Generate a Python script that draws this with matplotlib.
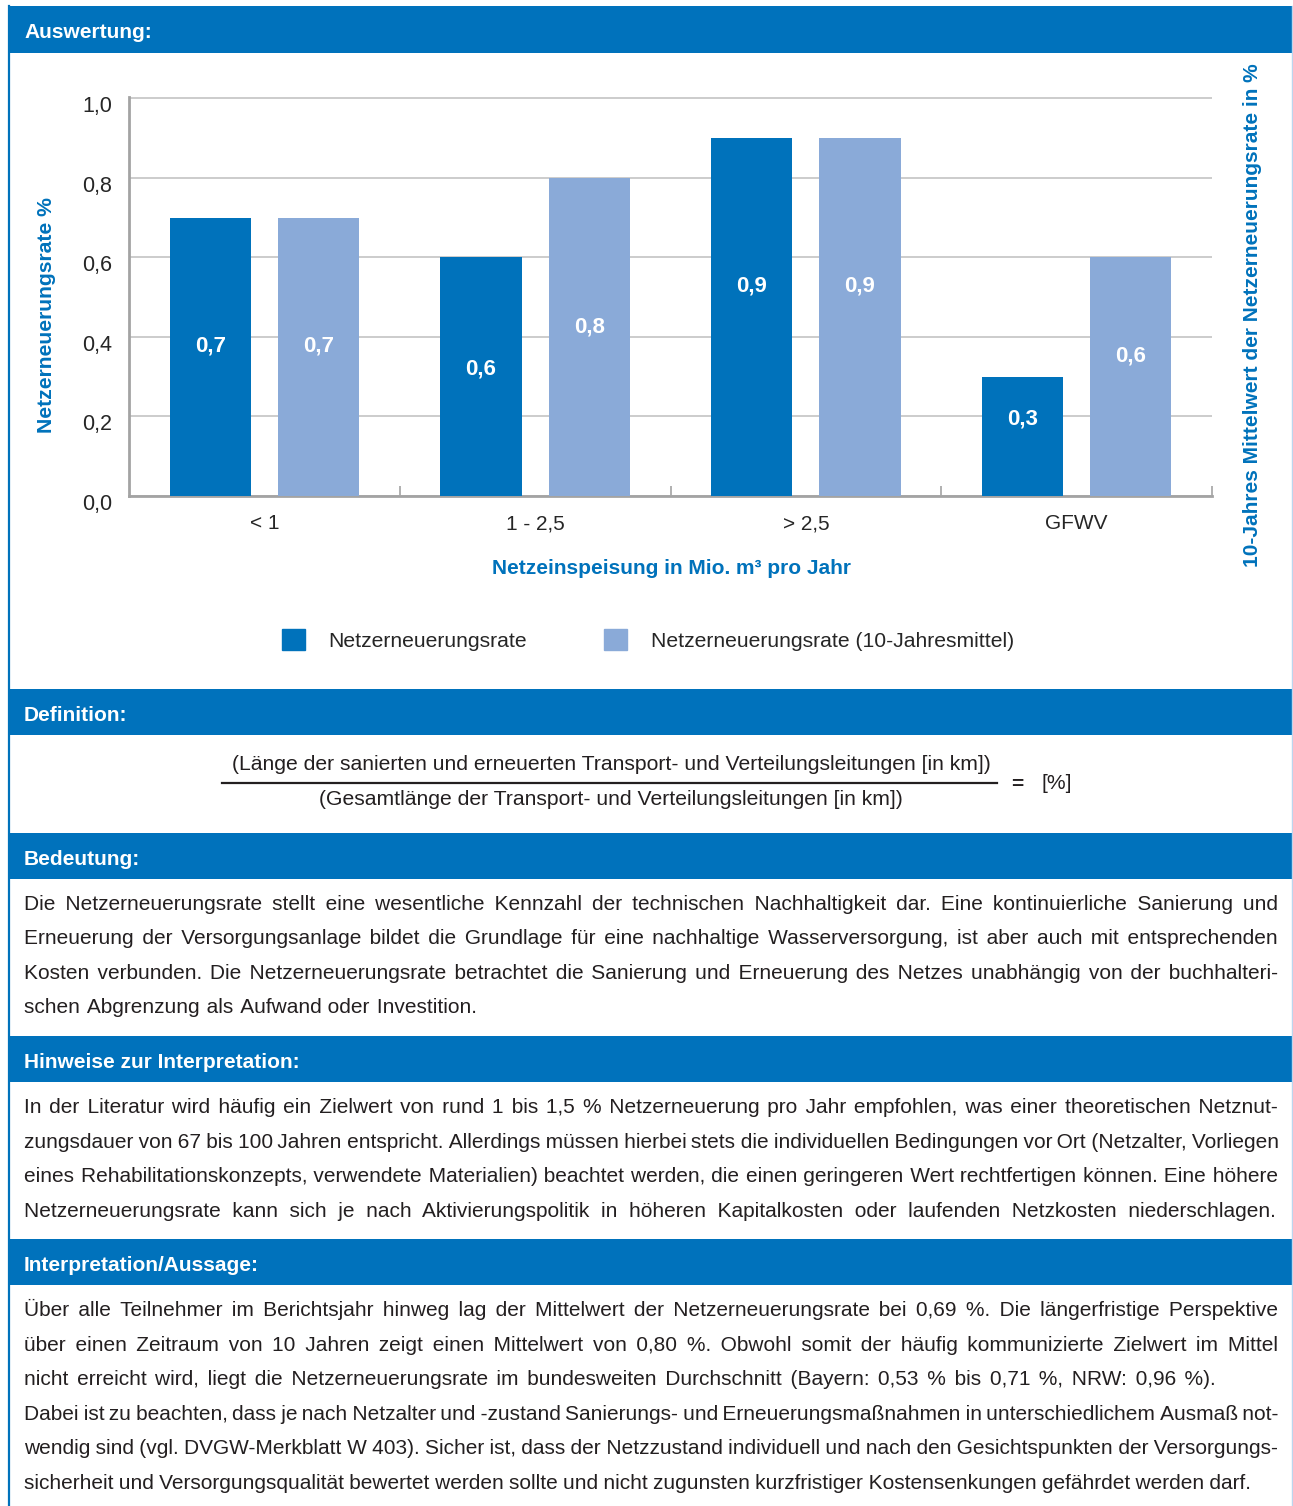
import itertools
import numpy as np
import matplotlib
matplotlib.use('Agg')
import matplotlib.pyplot as plt
from matplotlib.patches import Rectangle, Patch
from matplotlib.lines import Line2D
from matplotlib.transforms import ScaledTranslation

plt.rcParams['font.family'] = ['Liberation Sans', 'DejaVu Sans']

# Netzerneuerungsrate nach Netzeinspeisung
categories = ['< 1', '1 - 2,5', '> 2,5', 'GFWV']
rate = [0.7, 0.6, 0.9, 0.3]
rate_10y = [0.7, 0.8, 0.9, 0.6]
series_names = ['Netzerneuerungsrate', 'Netzerneuerungsrate (10-Jahresmittel)']

# Hoehe der Wertbeschriftung in den Balken
label_y_rate = [0.376, 0.32, 0.529, 0.193]
label_y_10y = [0.376, 0.424, 0.529, 0.353]

BLUE = '#0072bb'
LIGHT = '#8aaad8'
HEAD = '#0072bc'
TXT = '#231f20'
GRID = '#c8c8c8'
SPINE = '#a3a3a3'

W, H = 1293, 1506
fig = plt.figure(figsize=(W / 100, H / 100), dpi=100)
fig.patch.set_facecolor('white')


def fx(px):
    return px / W


def fy(py):
    return 1 - py / H


# Rahmen
fig.add_artist(Line2D([fx(9), fx(9)], [fy(6), 0], color=BLUE, lw=1.6))
fig.add_artist(Line2D([fx(1292), fx(1292)], [fy(6), 0], color='#bcd5ee', lw=1.0))

# Kopfzeilen der Abschnitte
headers = [('Auswertung:', 6, 53), ('Definition:', 689, 735), ('Bedeutung:', 833, 879),
           ('Hinweise zur Interpretation:', 1036, 1082), ('Interpretation/Aussage:', 1239, 1285)]
for title, top, bot in headers:
    fig.add_artist(Rectangle((fx(8), fy(bot)), fx(1293) - fx(8), (bot - top) / H,
                             transform=fig.transFigure, color=HEAD, lw=0))
    fig.text(fx(24), fy(round((top + bot) / 2 + 9)), title, color='white', fontsize=15,
             weight='bold', ha='left', va='baseline')

# Diagramm
ax = fig.add_axes([fx(129), fy(496), (1212 - 129) / W, (496 - 97) / H])
x = np.arange(len(categories))
ax.bar(x - 0.2, rate, 0.3, color=BLUE, zorder=3)
ax.bar(x + 0.2, rate_10y, 0.3, color=LIGHT, zorder=3)

for xi, v, ly in zip(x - 0.2, rate, label_y_rate):
    ax.text(xi, ly, f'{v:.1f}'.replace('.', ','), color='white', weight='bold',
            fontsize=16, ha='center', va='center', zorder=4)
for xi, v, ly in zip(x + 0.2, rate_10y, label_y_10y):
    ax.text(xi, ly, f'{v:.1f}'.replace('.', ','), color='white', weight='bold',
            fontsize=16, ha='center', va='center', zorder=4)

ax.set_xlim(-0.5, 3.5)
ax.set_ylim(0, 1.003)
yt = np.arange(0, 1.01, 0.2)
ax.set_yticks(yt)
ax.set_yticklabels([f'{t:.1f}'.replace('.', ',') for t in yt])
ax.set_xticks(x)
ax.set_xticklabels(categories)
ax.set_xticks(np.arange(0.5, 4, 1), minor=True)
ax.tick_params(axis='x', which='major', length=0, pad=13, labelsize=15, labelcolor='#262626')
ax.tick_params(axis='x', which='minor', direction='in', length=7, width=1.2, color=SPINE)
ax.tick_params(axis='y', length=0, pad=12, labelsize=15.5, labelcolor='#262626')
# Achsenbeschriftung etwas unter die Gitterlinien setzen
shift = ScaledTranslation(0, -6 / 100, fig.dpi_scale_trans)
for lab in ax.get_yticklabels():
    lab.set_transform(lab.get_transform() + shift)
ax.yaxis.grid(True, color=GRID, lw=1.3, zorder=0)
ax.set_axisbelow(True)
for s in ['top', 'right']:
    ax.spines[s].set_visible(False)
for s in ['left', 'bottom']:
    ax.spines[s].set_color(SPINE)
    ax.spines[s].set_linewidth(2)

fig.text(fx(672), fy(568), 'Netzeinspeisung in Mio. m³ pro Jahr', color=BLUE,
         weight='bold', fontsize=15, ha='center', va='center')
fig.text(fx(46), fy(315), 'Netzerneuerungsrate %', color=BLUE, weight='bold',
         fontsize=15.2, rotation=90, ha='center', va='center')
fig.text(fx(1253), fy(315), '10-Jahres Mittelwert der Netzerneuerungsrate in %', color=BLUE,
         weight='bold', fontsize=15, rotation=90, ha='center', va='center')

handles = [Patch(color=BLUE), Patch(color=LIGHT)]
fig.legend(handles, series_names, loc='center', bbox_to_anchor=(fx(648), fy(640)),
           ncol=2, frameon=False, fontsize=15.2, handlelength=1.09, handleheight=1.09,
           handletextpad=1.14, columnspacing=3.65, labelcolor='#262626')

# Definition
DEF = 15.2
fig.text(fx(611), fy(770), '(Länge der sanierten und erneuerten Transport- und Verteilungsleitungen [in km])',
         fontsize=DEF, color=TXT, ha='center', va='baseline')
fig.text(fx(611), fy(805), '(Gesamtlänge der Transport- und Verteilungsleitungen [in km])',
         fontsize=DEF, color=TXT, ha='center', va='baseline')
fig.add_artist(Line2D([fx(222), fx(997)], [fy(783), fy(783)], color=TXT, lw=1.6))
fig.text(fx(1017), fy(785), '=', weight='bold', fontsize=15, color=TXT, ha='center', va='center')
fig.text(fx(1057), fy(789), '[%]', fontsize=DEF, color=TXT, ha='center', va='baseline')

# Fliesstext im Blocksatz: eine Zeile = ein Text, Wortabstaende aus Unicode-Leerzeichen
BODY = 15
LEFT = 24
renderer = fig.canvas.get_renderer()


def text_w(s):
    t = fig.text(0, 0, s, fontsize=BODY)
    w = t.get_window_extent(renderer).width
    t.remove()
    return w


SPACES = [' ', '\u2002', '\u2003', '\u2004', '\u2005', '\u2006', '\u2007', '\u2008', '\u2009', '\u200a']
base = text_w('nn')
sp_w = {c: text_w('n' + c + 'n') - base for c in SPACES}
sp_w = {c: v for c, v in sp_w.items() if v > 0.5}
combos = []
for k in (1, 2, 3):
    for combo in itertools.combinations_with_replacement(sp_w, k):
        combos.append((sum(sp_w[c] for c in combo), ''.join(combo)))


def build(words, gap):
    out = words[0]
    err = 0.0
    for w in words[1:]:
        target = gap + err
        wsum, s = min(combos, key=lambda c: abs(c[0] - target))
        err = target - wsum
        out += s + w
    return out


def put_line(line, y, right):
    words = line.split(' ')
    gap = ((right - LEFT) - sum(text_w(w) for w in words)) / (len(words) - 1)
    out = build(words, gap)
    for _ in range(2):
        gap += ((right - LEFT) - text_w(out)) / (len(words) - 1)
        out = build(words, gap)
    fig.text(fx(LEFT), fy(round(y + 7)), out, fontsize=BODY, color=TXT,
             ha='left', va='baseline')


bedeutung = [
    'Die Netzerneuerungsrate stellt eine wesentliche Kennzahl der technischen Nachhaltigkeit dar. Eine kontinuierliche Sanierung und',
    'Erneuerung der Versorgungsanlage bildet die Grundlage für eine nachhaltige Wasserversorgung, ist aber auch mit entsprechenden',
    'Kosten verbunden. Die Netzerneuerungsrate betrachtet die Sanierung und Erneuerung des Netzes unabhängig von der buchhalteri-',
    'schen Abgrenzung als Aufwand oder Investition.',
]
bedeutung_right = [1278, 1278, 1278, 477]

hinweise = [
    'In der Literatur wird häufig ein Zielwert von rund 1 bis 1,5 % Netzerneuerung pro Jahr empfohlen, was einer theoretischen Netznut-',
    'zungsdauer von 67 bis 100 Jahren entspricht. Allerdings müssen hierbei stets die individuellen Bedingungen vor Ort (Netzalter, Vorliegen',
    'eines Rehabilitationskonzepts, verwendete Materialien) beachtet werden, die einen geringeren Wert rechtfertigen können. Eine höhere',
    'Netzerneuerungsrate kann sich je nach Aktivierungspolitik in höheren Kapitalkosten oder laufenden Netzkosten niederschlagen.',
]
hinweise_right = [1278, 1278, 1278, 1277]

aussage = [
    'Über alle Teilnehmer im Berichtsjahr hinweg lag der Mittelwert der Netzerneuerungsrate bei 0,69 %. Die längerfristige Perspektive',
    'über einen Zeitraum von 10 Jahren zeigt einen Mittelwert von 0,80 %. Obwohl somit der häufig kommunizierte Zielwert im Mittel',
    'nicht erreicht wird, liegt die Netzerneuerungsrate im bundesweiten Durchschnitt (Bayern: 0,53 % bis 0,71 %, NRW: 0,96 %).',
    'Dabei ist zu beachten, dass je nach Netzalter und -zustand Sanierungs- und Erneuerungsmaßnahmen in unterschiedlichem Ausmaß not-',
    'wendig sind (vgl. DVGW-Merkblatt W 403). Sicher ist, dass der Netzzustand individuell und nach den Gesichtspunkten der Versorgungs-',
    'sicherheit und Versorgungsqualität bewertet werden sollte und nicht zugunsten kurzfristiger Kostensenkungen gefährdet werden darf.',
]
aussage_right = [1278, 1278, 1216, 1278, 1278, 1251]

for i, (line, r) in enumerate(zip(bedeutung, bedeutung_right)):
    put_line(line, 903 + i * 34.4, r)
for i, (line, r) in enumerate(zip(hinweise, hinweise_right)):
    put_line(line, 1106 + i * 34.6, r)
for i, (line, r) in enumerate(zip(aussage, aussage_right)):
    put_line(line, 1309 + i * 34.6, r)

fig.savefig('out.png', dpi=100)
